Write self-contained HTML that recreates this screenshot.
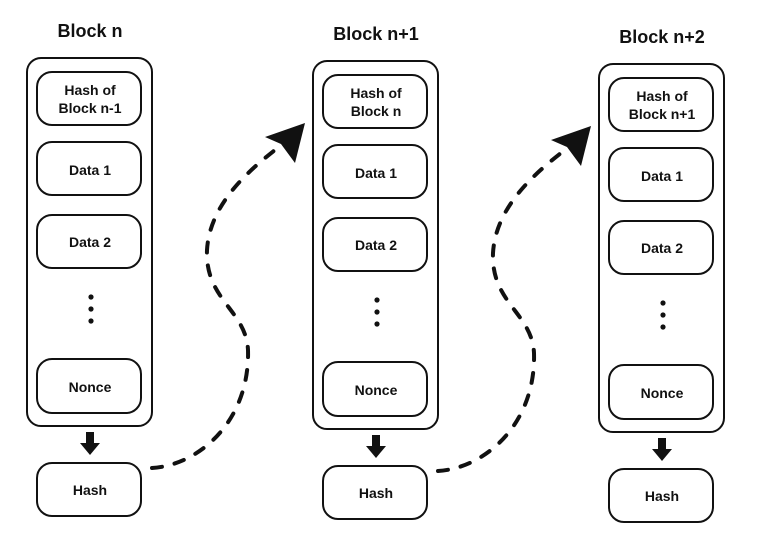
<!DOCTYPE html>
<html><head><style>
body{margin:0;background:#fff;width:757px;height:540px;overflow:hidden}
text{font-family:"Liberation Sans",sans-serif;font-weight:bold;fill:#111}
</style></head><body>
<svg width="757" height="540" viewBox="0 0 757 540">
<defs>
<g id="blk">
<rect x="27" y="58" width="125" height="368" rx="14" fill="none" stroke="#111" stroke-width="2"/>
<g fill="none" stroke="#111" stroke-width="2">
<rect x="37" y="72" width="104" height="53" rx="15"/>
<rect x="37" y="142" width="104" height="53" rx="15"/>
<rect x="37" y="215" width="104" height="53" rx="15"/>
<rect x="37" y="359" width="104" height="54" rx="15"/>
<rect x="37" y="463" width="104" height="53" rx="15"/>
</g>
<circle cx="91" cy="297" r="2.6" fill="#111"/><circle cx="91" cy="309" r="2.6" fill="#111"/><circle cx="91" cy="321" r="2.6" fill="#111"/>
<rect x="86" y="432" width="8" height="12" fill="#111"/>
<polygon points="80,443 100,443 90,455" fill="#111"/>
<text x="90" y="175" font-size="14" text-anchor="middle">Data 1</text>
<text x="90" y="247" font-size="14" text-anchor="middle">Data 2</text>
<text x="90" y="392" font-size="14" text-anchor="middle">Nonce</text>
<text x="90" y="495" font-size="14" text-anchor="middle">Hash</text>
</g>
<g id="arr">
<path d="M152,468 C200,465 250,420 248,350 C246,310 205,300 207,250 C210,200 255,165 288,140" fill="none" stroke="#111" stroke-width="4" stroke-linecap="round" stroke-dasharray="10,13"/>
<polygon points="305,123 265,137 281,144 295,163" fill="#111"/>
</g>
</defs>
<use href="#blk"/>
<text x="90" y="37" font-size="18" text-anchor="middle">Block n</text>
<text x="90" y="95" font-size="14" text-anchor="middle">Hash of</text>
<text x="90" y="113" font-size="14" text-anchor="middle">Block n-1</text>
<use href="#arr"/>
<g transform="translate(286,3)">
<use href="#blk"/>
<text x="90" y="37" font-size="18" text-anchor="middle">Block n+1</text>
<text x="90" y="95" font-size="14" text-anchor="middle">Hash of</text>
<text x="90" y="113" font-size="14" text-anchor="middle">Block n</text>
<use href="#arr"/>
</g>
<g transform="translate(572,6)">
<use href="#blk"/>
<text x="90" y="37" font-size="18" text-anchor="middle">Block n+2</text>
<text x="90" y="95" font-size="14" text-anchor="middle">Hash of</text>
<text x="90" y="113" font-size="14" text-anchor="middle">Block n+1</text>
</g>
</svg>
</body></html>
